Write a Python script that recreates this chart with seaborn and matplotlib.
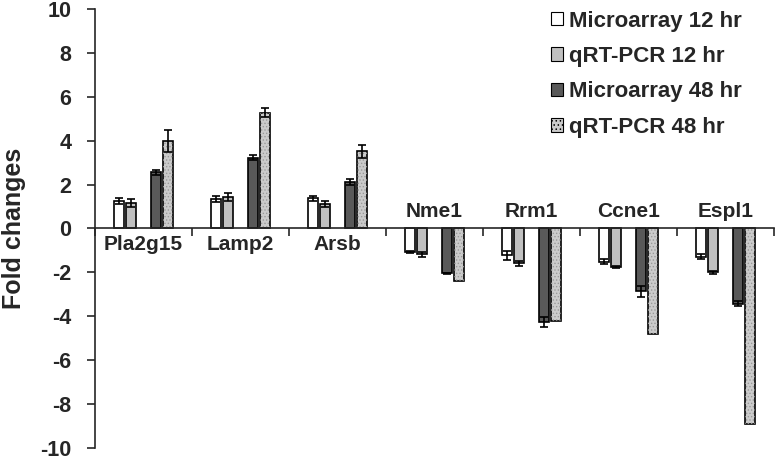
import numpy as np
import pandas as pd
import matplotlib
matplotlib.use('Agg')
import matplotlib.pyplot as plt
from matplotlib.patches import Patch, Rectangle
import seaborn as sns

# Values
genes = ['Pla2g15', 'Lamp2', 'Arsb', 'Nme1', 'Rrm1', 'Ccne1', 'Espl1']
series = ['Microarray 12 hr', 'qRT-PCR 12 hr', 'Microarray 48 hr', 'qRT-PCR 48 hr']

micro_12 = [1.25, 1.35, 1.37, -1.07, -1.23, -1.52, -1.29]
qpcr_12 = [1.15, 1.45, 1.12, -1.17, -1.59, -1.74, -2.00]
micro_48 = [2.55, 3.22, 2.12, -2.05, -4.26, -2.87, -3.43]
qpcr_48 = [4.00, 5.28, 3.52, -2.41, -4.23, -4.81, -8.90]

err_micro_12 = [0.15, 0.13, 0.13, 0.03, 0.22, 0.12, 0.12]
err_qpcr_12 = [0.18, 0.18, 0.13, 0.12, 0.10, 0.05, 0.06]
err_micro_48 = [0.10, 0.12, 0.15, 0.03, 0.23, 0.27, 0.12]
err_qpcr_48 = [0.50, 0.20, 0.30, 0.0, 0.0, 0.0, 0.0]

yticks = [10, 8, 6, 4, 2, 0, -2, -4, -6, -8, -10]

sns.set_style('ticks')
plt.rcParams['font.family'] = ['Liberation Sans', 'DejaVu Sans']
plt.rcParams['font.weight'] = 'bold'
plt.rcParams['hatch.linewidth'] = 0.6

# long table; an empty spacer level sits between the 12 hr and 48 hr pairs
spacer = ' '
hue_order = [series[0], series[1], spacer, series[2], series[3]]
vals = [micro_12, qpcr_12, micro_48, qpcr_48]
errs = [err_micro_12, err_qpcr_12, err_micro_48, err_qpcr_48]
rows = []
for s, v, e in zip(series, vals, errs):
    for g, val, er in zip(genes, v, e):
        rows.append({'gene': g, 'series': s, 'value': val, 'err': er})
for g in genes:
    rows.append({'gene': g, 'series': spacer, 'value': 0.0, 'err': 0.0})
df = pd.DataFrame(rows)

colors = {series[0]: '#ffffff', series[1]: '#c0c0c0', spacer: '#ffffff',
          series[2]: '#595959', series[3]: '#cbcbcb'}
dot_color = '#999999'

fig = plt.figure(figsize=(7.75, 4.57), dpi=100)
ax = fig.add_axes([0.1226, 0.0197, 0.876, 0.9607])

sns.barplot(data=df, x='gene', y='value', hue='series', hue_order=hue_order,
            order=genes, palette=colors, width=0.635, errorbar=None,
            edgecolor='black', linewidth=1.2, legend=False, ax=ax)

# error bars + dotted fill on the qRT-PCR 48 hr bars
for container, level in zip(ax.containers, hue_order):
    sub = df[df['series'] == level].set_index('gene').loc[genes]
    for patch, (g, r) in zip(container.patches, sub.iterrows()):
        if level == spacer:
            patch.set_visible(False)
            continue
        bar_w = patch.get_width()
        patch.set_width(bar_w * 0.8)
        patch.set_x(patch.get_x() + bar_w * 0.1)
        if level == series[3]:
            dots = Rectangle((patch.get_x(), patch.get_y()), patch.get_width(),
                             patch.get_height(), facecolor='none',
                             edgecolor=dot_color, linewidth=0, hatch='.....', zorder=patch.get_zorder())
            ax.add_patch(dots)
        if r['err'] > 0:
            cx = patch.get_x() + patch.get_width() / 2
            ax.errorbar(cx, r['value'], yerr=r['err'], color='black',
                        capsize=3, elinewidth=1.2, capthick=1.2, zorder=4)

# gene labels next to the zero line
for i, g in enumerate(genes):
    if micro_12[i] > 0:
        ax.text(i, -0.3, g, ha='center', va='top', fontsize=15, fontweight='bold')
    else:
        ax.text(i, 0.35, g, ha='center', va='bottom', fontsize=15, fontweight='bold')

ax.set_xlim(-0.5, len(genes) - 0.5)
ax.set_ylim(-10, 10)
ax.set_yticks(yticks)
ax.set_yticklabels([str(t) for t in yticks], fontsize=15.5, fontweight='bold')
ax.set_xticks(np.arange(-0.5, len(genes)))
ax.set_xticklabels([])
ax.tick_params(axis='x', length=6, width=1.2, direction='out')
ax.tick_params(axis='y', length=6, width=1.2, direction='out', pad=11)
ax.set_xlabel('')
ax.set_ylabel('Fold changes', fontsize=18, fontweight='bold', labelpad=10)

sns.despine(ax=ax)
ax.spines['left'].set_linewidth(1.2)
ax.spines['bottom'].set_position(('data', 0))
ax.spines['bottom'].set_linewidth(1.2)

# legend with square markers
handles = [Patch(facecolor=colors[s], edgecolor='black', linewidth=0.8) for s in series]
leg = fig.legend(handles, series, loc='upper left', bbox_to_anchor=(0.711, 0.977),
                 frameon=False, handlelength=0.55, handleheight=0.55,
                 handletextpad=0.25, labelspacing=0.65, borderpad=0, borderaxespad=0,
                 prop={'weight': 'bold', 'size': 16})
lh = leg.legend_handles[3]
lh.set_hatch('....')
lh.set_edgecolor('black')

fig.savefig('out.png', dpi=100)
